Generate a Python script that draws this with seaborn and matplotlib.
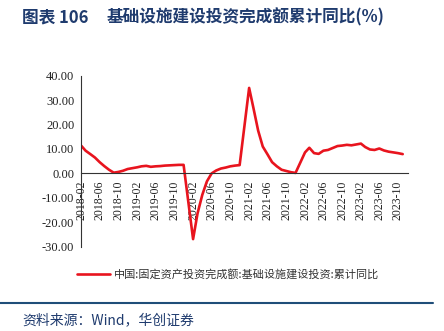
import matplotlib
matplotlib.use("Agg")
import matplotlib.pyplot as plt
import matplotlib.dates as mdates
from matplotlib.lines import Line2D
import pandas as pd
import seaborn as sns

# Monthly cumulative YoY growth of infrastructure investment (%); January is not published
months = (
    [f"2018-{m:02d}" for m in range(2, 13)]
    + [f"2019-{m:02d}" for m in range(2, 13)]
    + [f"2020-{m:02d}" for m in range(2, 13)]
    + [f"2021-{m:02d}" for m in range(2, 13)]
    + [f"2022-{m:02d}" for m in range(2, 13)]
    + [f"2023-{m:02d}" for m in range(2, 12)]
)
values_2018 = [11.3, 9.3, 7.9, 6.5, 4.6, 3.0, 1.5, 0.3, 0.6, 1.1, 1.8]
values_2019 = [2.5, 2.9, 3.1, 2.7, 2.9, 3.0, 3.2, 3.3, 3.4, 3.5, 3.5]
values_2020 = [-26.9, -16.4, -8.8, -3.3, 0.0, 1.2, 2.0, 2.4, 2.9, 3.2, 3.4]
values_2021 = [35.0, 26.8, 17.5, 11.0, 7.8, 4.6, 2.9, 1.5, 1.0, 0.5, 0.2]
values_2022 = [8.6, 10.5, 8.3, 8.0, 9.3, 9.6, 10.4, 11.2, 11.4, 11.7, 11.5]
values_2023 = [12.2, 10.8, 9.8, 9.6, 10.2, 9.4, 8.9, 8.6, 8.3, 7.9]
values = values_2018 + values_2019 + values_2020 + values_2021 + values_2022 + values_2023

series_name = "中国:固定资产投资完成额:基础设施建设投资:累计同比"
title_no = "图表 106"
title_text = "基础设施建设投资完成额累计同比(%)"
source_text = "资料来源：Wind，华创证券"
y_ticks = [-30, -20, -10, 0, 10, 20, 30, 40]

df = pd.DataFrame({"date": pd.to_datetime(months), "value": values})

sns.set_style("white")
plt.rcParams["font.family"] = ["Noto Sans CJK SC", "DejaVu Sans"]
plt.rcParams["axes.unicode_minus"] = False

RED = "#E8141E"
NAVY = "#1F3B6E"

fig = plt.figure(figsize=(4.44, 3.31), dpi=100)
ax = fig.add_axes([0.1831, 0.2547, 0.736, 0.5166])

sns.lineplot(data=df, x="date", y="value", ax=ax, color=RED, linewidth=1.9,
             label=series_name, legend=False)

ax.set_ylim(-30, 40)
ax.set_xlim(pd.Timestamp("2018-02-01"), pd.Timestamp("2023-12-06"))
ax.set_yticks(y_ticks)
ax.set_yticklabels([f"{v:.2f}" for v in y_ticks])

ax.xaxis.set_major_locator(mdates.MonthLocator(bymonth=[2, 6, 10]))
ax.xaxis.set_major_formatter(mdates.DateFormatter("%Y-%m"))

ax.set_xlabel("")
ax.set_ylabel("")
ax.spines["top"].set_visible(False)
ax.spines["right"].set_visible(False)
ax.spines["bottom"].set_position(("data", 0))
for s in ("left", "bottom"):
    ax.spines[s].set_color("#333333")
    ax.spines[s].set_linewidth(0.8)
ax.tick_params(axis="both", which="major", direction="out", length=3, width=0.8,
               color="#333333", pad=2, labelsize=9, labelcolor="#222222",
               labelfontfamily="Liberation Serif")
ax.tick_params(axis="x", labelrotation=90, labelsize=8.5)
ax.grid(False)

handles, labels = ax.get_legend_handles_labels()
leg = ax.legend(handles, labels, loc="center left", bbox_to_anchor=(0.16, 0.172),
                bbox_transform=fig.transFigure, frameon=False, fontsize=8,
                handlelength=3.0, handletextpad=0.4, borderpad=0)
for t in leg.get_texts():
    t.set_color("#333333")

fig.text(0.05, 0.948, title_no, fontsize=12, fontweight="bold", color=NAVY, va="center")
fig.text(0.241, 0.948, title_text, fontsize=12, fontweight="bold", color=NAVY, va="center")

fig.add_artist(Line2D([0.0, 0.975], [0.085, 0.085], transform=fig.transFigure,
                      color="#1F4E79", linewidth=1.5))
fig.text(0.05, 0.033, source_text, fontsize=10, color=NAVY, va="center", style="italic")

fig.savefig("out.png", dpi=100)
